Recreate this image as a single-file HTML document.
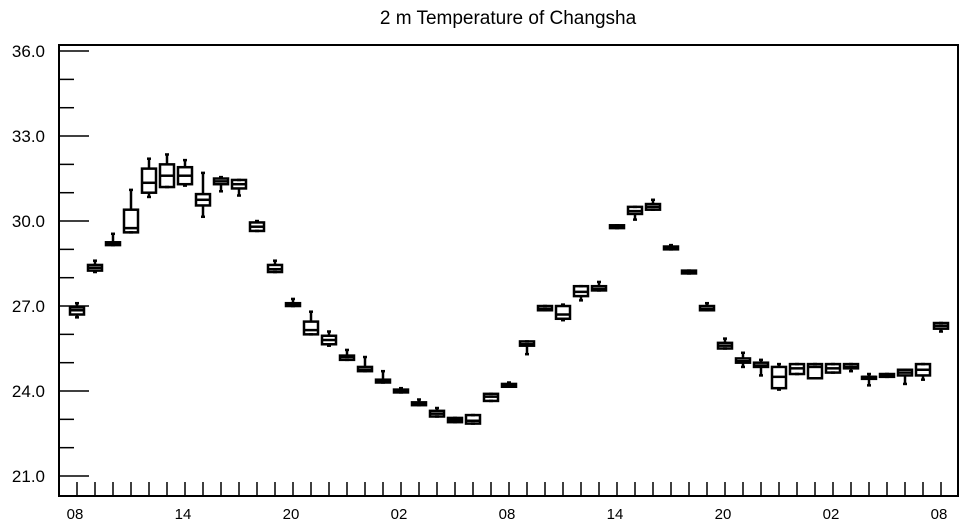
<!DOCTYPE html>
<html><head><meta charset="utf-8"><style>
body{margin:0;background:#fff;width:964px;height:525px;overflow:hidden}
text{font-family:"Liberation Sans",sans-serif;fill:#000}
</style></head><body>
<svg id="chart" width="964" height="525" xmlns="http://www.w3.org/2000/svg">
<text x="508" y="24" font-size="19" text-anchor="middle">2 m Temperature of Changsha</text>
<rect x="59" y="45" width="899" height="451" fill="none" stroke="#000" stroke-width="2"/>
<g id="axes"></g><g id="boxes"></g>
</svg>
<script>
const hours=['08','09','10','11','12','13','14','15','16','17','18','19','20','21','22','23','00','01','02','03','04','05','06','07','08','09','10','11','12','13','14','15','16','17','18','19','20','21','22','23','00','01','02','03','04','05','06','07','08'];
const q1=[26.7,28.25,29.15,29.6,31.0,31.2,31.3,30.55,31.3,31.15,29.65,28.2,27.0,26.0,25.65,25.1,24.7,24.3,23.95,23.5,23.1,22.9,22.85,23.65,24.15,25.6,26.85,26.55,27.35,27.55,29.75,30.25,30.4,29.0,28.15,26.85,25.5,25.0,24.85,24.1,24.6,24.45,24.65,24.8,24.45,24.5,24.55,24.55,26.2];
const q3=[26.95,28.45,29.25,30.4,31.85,32.0,31.9,30.95,31.5,31.45,29.95,28.45,27.1,26.45,25.95,25.25,24.85,24.4,24.05,23.6,23.3,23.05,23.15,23.9,24.25,25.75,27.0,27.0,27.7,27.7,29.85,30.5,30.6,29.1,28.25,27.0,25.7,25.15,25.0,24.85,24.95,24.95,24.95,24.95,24.5,24.6,24.75,24.95,26.4];
const med=[26.85,28.35,29.2,29.75,31.35,31.6,31.6,30.75,31.4,31.3,29.8,28.3,27.05,26.15,25.8,25.2,24.75,24.35,24.0,23.55,23.2,22.97,22.95,23.8,24.2,25.65,26.9,26.7,27.5,27.6,29.8,30.35,30.5,29.05,28.2,26.9,25.6,25.05,24.9,24.5,24.8,24.85,24.8,24.85,24.5,24.55,24.65,24.75,26.3];
const wmin=[26.6,28.2,29.15,29.6,30.85,31.2,31.25,30.15,31.05,30.9,29.65,28.2,27.0,26.0,25.6,25.1,24.7,24.3,23.95,23.5,23.1,22.9,22.85,23.65,24.15,25.3,26.85,26.5,27.2,27.55,29.75,30.05,30.4,29.0,28.15,26.85,25.5,24.85,24.55,24.05,24.6,24.45,24.65,24.7,24.2,24.5,24.25,24.4,26.1];
const wmax=[27.1,28.6,29.55,31.1,32.2,32.35,32.15,31.7,31.55,31.45,30.0,28.6,27.25,26.8,26.1,25.45,25.2,24.7,24.1,23.7,23.4,23.05,23.15,23.9,24.3,25.75,27.0,27.05,27.7,27.85,29.85,30.5,30.75,29.15,28.25,27.1,25.85,25.35,25.1,24.95,24.95,24.95,24.95,24.95,24.6,24.6,24.75,24.95,26.4];
const yTicks=[21,24,27,30,33,36];
const NS='http://www.w3.org/2000/svg';
const y=v=>476-(v-21)*28.33;
const x=i=>77+i*18;
function mk(tag,a,p){const e=document.createElementNS(NS,tag);for(const k in a)e.setAttribute(k,a[k]);p.appendChild(e);return e;}
const ax=document.getElementById('axes'),bx=document.getElementById('boxes');
for(let v=21;v<=36.01;v+=1){
  const major=yTicks.includes(Math.round(v));
  const l=mk('line',{x1:59,x2:major?89:74,y1:y(v),y2:y(v),stroke:'#000','stroke-width':1.5},ax);
  
  
}
yTicks.forEach(v=>{const t=mk('text',{x:45,y:y(v)+6,'font-size':17,'text-anchor':'end'},ax);t.textContent=v.toFixed(1);
  
  });
hours.forEach((h,i)=>{
  const l=mk('line',{x1:x(i),x2:x(i),y1:496,y2:482,stroke:'#000','stroke-width':1.5},ax);
  
  
  if(i%6===0){const t=mk('text',{x:x(i)-2,y:519,'font-size':15,'text-anchor':'middle'},ax);t.textContent=h;
    
    }
  const g=mk('g',{stroke:'#000','stroke-width':2.5,fill:'none'},bx);
  
  
  const cx=x(i),hw=7;
  mk('line',{x1:cx,x2:cx,y1:y(wmax[i]),y2:y(q3[i])},g);
  mk('line',{x1:cx,x2:cx,y1:y(q1[i]),y2:y(wmin[i])},g);
  mk('line',{x1:cx-2,x2:cx+2,y1:y(wmax[i]),y2:y(wmax[i])},g);
  mk('line',{x1:cx-2,x2:cx+2,y1:y(wmin[i]),y2:y(wmin[i])},g);
  mk('rect',{x:cx-hw,y:y(q3[i]),width:hw*2,height:Math.max(2,y(q1[i])-y(q3[i]))},g);
  mk('line',{x1:cx-hw,x2:cx+hw,y1:y(med[i]),y2:y(med[i])},g);
});
</script>
</body></html>
